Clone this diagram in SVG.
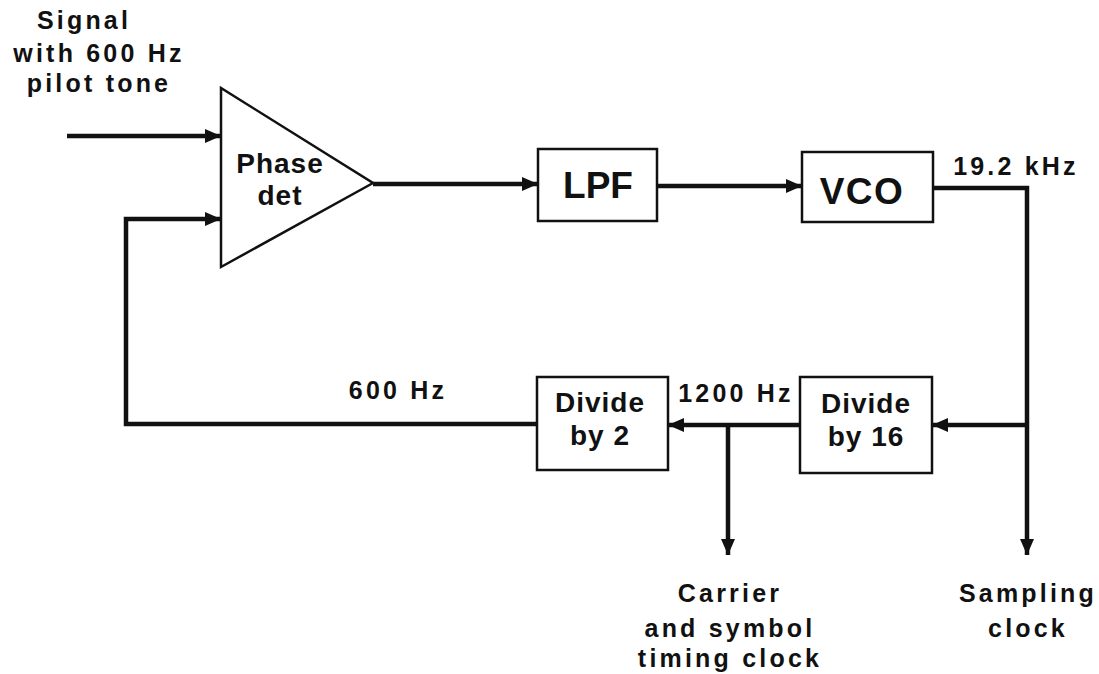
<svg xmlns="http://www.w3.org/2000/svg" width="1099" height="674" viewBox="0 0 1099 674">
<defs>
<style>
.box{fill:#fff;stroke:#111;stroke-width:2.5}
.wire{fill:none;stroke:#111;stroke-width:4.5;stroke-linejoin:miter;stroke-linecap:butt}
.bt{font-family:"Liberation Sans",Arial,sans-serif;font-weight:bold;fill:#111;text-anchor:middle}
.lbl{font-family:"Liberation Sans",Arial,sans-serif;font-weight:bold;fill:#111;font-size:25px;letter-spacing:3.2px;text-anchor:middle}
</style>
<marker id="ah" markerUnits="userSpaceOnUse" markerWidth="16" markerHeight="14" refX="16" refY="7" orient="auto">
<path d="M0,0 L16,7 L0,14 z" fill="#111"/>
</marker>
</defs>
<rect width="1099" height="674" fill="#fff"/>

<g id="connectors">
<line class="wire" x1="67" y1="136" x2="221" y2="136" marker-end="url(#ah)"/>
<polyline class="wire" points="537,424 126,424 126,219 221,219" marker-end="url(#ah)"/>
<line class="wire" x1="373" y1="184" x2="538" y2="184" marker-end="url(#ah)"/>
<line class="wire" x1="657" y1="186" x2="802" y2="186" marker-end="url(#ah)"/>
<polyline class="wire" points="933,188 1027,188 1027,555" marker-end="url(#ah)"/>
<line class="wire" x1="1027" y1="425" x2="932" y2="425" marker-end="url(#ah)"/>
<line class="wire" x1="800" y1="425" x2="668" y2="425" marker-end="url(#ah)"/>
<line class="wire" x1="728" y1="425" x2="728" y2="555" marker-end="url(#ah)"/>
</g>

<g id="phase-det">
<polygon class="box" points="221,88 221,267 373,183"/>
<text class="bt" font-size="28" letter-spacing="1" x="280" y="173">Phase</text>
<text class="bt" font-size="28" letter-spacing="1" x="280" y="205">det</text>
</g>

<g id="lpf">
<rect class="box" x="538" y="149" width="119" height="72"/>
<text class="bt" font-size="37" x="598" y="198">LPF</text>
</g>

<g id="vco">
<rect class="box" x="802" y="152" width="131" height="70"/>
<text class="bt" font-size="37" letter-spacing="1.5" x="862" y="204">VCO</text>
</g>

<g id="div16">
<rect class="box" x="800" y="377" width="132" height="96"/>
<text class="bt" font-size="28" letter-spacing="1" x="866" y="413">Divide</text>
<text class="bt" font-size="28" letter-spacing="1" x="866" y="446">by 16</text>
</g>

<g id="div2">
<rect class="box" x="537" y="377" width="131" height="93"/>
<text class="bt" font-size="28" letter-spacing="1" x="600" y="412">Divide</text>
<text class="bt" font-size="28" letter-spacing="1" x="600" y="445">by 2</text>
</g>

<g id="labels">
<text class="lbl" x="84" y="29">Signal</text>
<text class="lbl" x="99" y="62">with 600 Hz</text>
<text class="lbl" x="99" y="92">pilot tone</text>
<text class="lbl" x="1016" y="175">19.2 kHz</text>
<text class="lbl" x="398" y="399">600 Hz</text>
<text class="lbl" x="736" y="402">1200 Hz</text>
<text class="lbl" x="730" y="602">Carrier</text>
<text class="lbl" x="730" y="637">and symbol</text>
<text class="lbl" x="730" y="667">timing clock</text>
<text class="lbl" x="1028" y="602">Sampling</text>
<text class="lbl" x="1028" y="637">clock</text>
</g>
</svg>
